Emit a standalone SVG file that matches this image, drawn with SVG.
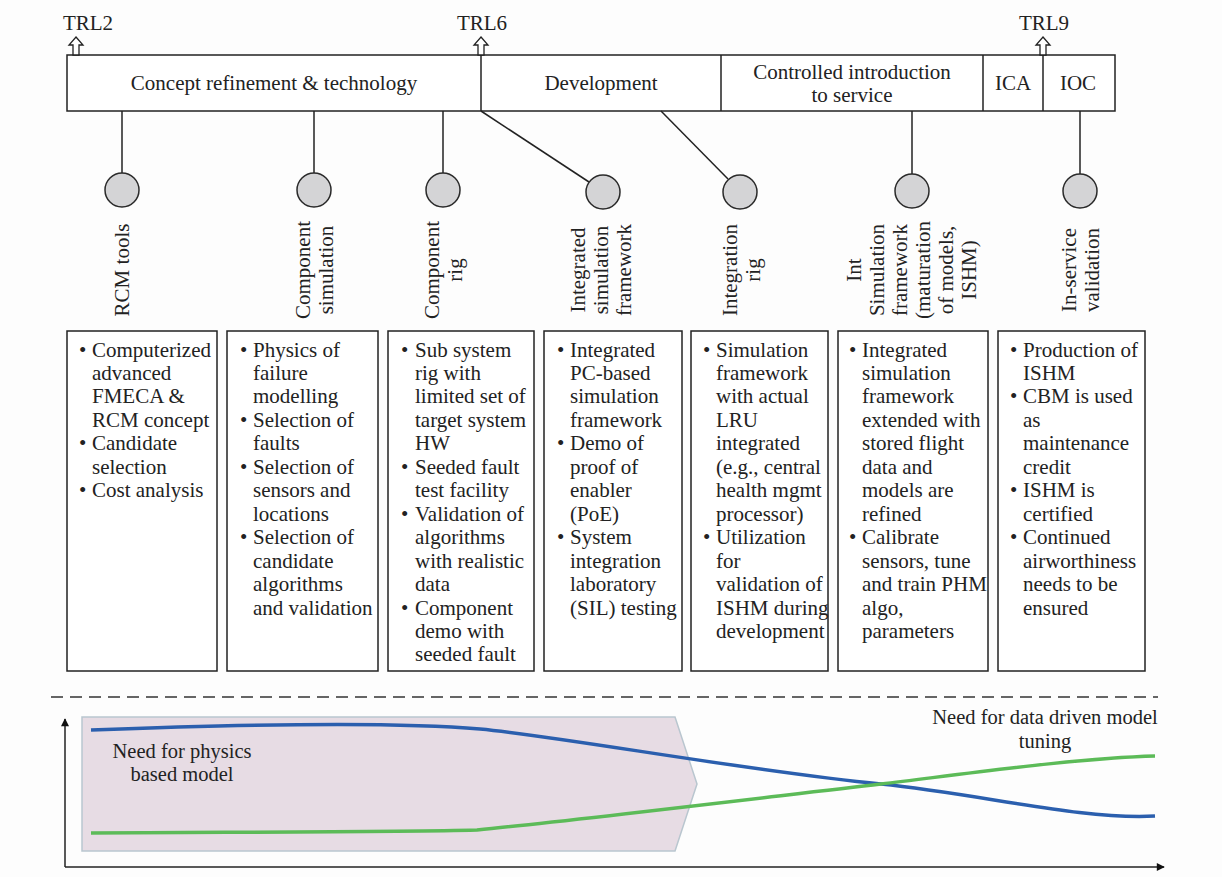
<svg xmlns="http://www.w3.org/2000/svg" width="1222" height="877" viewBox="0 0 1222 877">
  <style>
    .t { font-family: "Liberation Serif", "Times New Roman", serif; font-size: 21px; fill: #222; }
    .c { text-anchor: middle; }
    .box { fill: #fff; stroke: #222; stroke-width: 1.5; }
    .ln { stroke: #222; stroke-width: 1.5; fill: none; }
    .dot { fill: #d4d4d6; stroke: #2a2a2a; stroke-width: 1.5; }
    .trl { fill: #fff; stroke: #222; stroke-width: 1.3; }
  </style>
  <defs>
    <marker id="ah" viewBox="0 0 10 10" refX="9" refY="5" markerWidth="10" markerHeight="8" markerUnits="userSpaceOnUse" orient="auto">
      <path d="M0,0 L10,5 L0,10 z" fill="#111"/>
    </marker>
  </defs>
  <rect width="1222" height="877" fill="#fdfdfd"/>

  <!-- Phase bar -->
  <g id="phases">
    <rect class="box" x="67" y="55" width="1048" height="56"/>
    <line class="ln" x1="481" y1="55" x2="481" y2="111"/>
    <line class="ln" x1="721" y1="55" x2="721" y2="111"/>
    <line class="ln" x1="983" y1="55" x2="983" y2="111"/>
    <line class="ln" x1="1043" y1="55" x2="1043" y2="111"/>
    <text class="t c" x="274" y="90">Concept refinement &amp; technology</text>
    <text class="t c" x="601" y="90">Development</text>
    <text class="t c" x="852" y="79">Controlled introduction</text>
    <text class="t c" x="852" y="102">to service</text>
    <text class="t c" x="1013" y="90">ICA</text>
    <text class="t c" x="1078" y="90">IOC</text>
  </g>

  <!-- TRL markers -->
  <g id="trl">
    <polygon class="trl" points="76,37 83,45 79,45 79,55 73,55 73,45 69,45"/>
    <text class="t c" x="88" y="30">TRL2</text>
    <polygon class="trl" points="481,37 488,45 484,45 484,55 478,55 478,45 474,45"/>
    <text class="t c" x="482" y="30">TRL6</text>
    <polygon class="trl" points="1043,37 1050,45 1046,45 1046,55 1040,55 1040,45 1036,45"/>
    <text class="t c" x="1044" y="30">TRL9</text>
  </g>

  <!-- Connectors from phase bar to activities -->
  <g id="connectors">
    <line class="ln" x1="122" y1="111" x2="122" y2="173"/>
    <line class="ln" x1="314" y1="111" x2="314" y2="173"/>
    <line class="ln" x1="443" y1="111" x2="443" y2="173"/>
    <line class="ln" x1="481" y1="111" x2="589" y2="182"/>
    <line class="ln" x1="661" y1="111" x2="728" y2="179"/>
    <line class="ln" x1="912" y1="111" x2="912" y2="174"/>
    <line class="ln" x1="1080" y1="111" x2="1080" y2="174"/>
  </g>

  <!-- Activity 1 -->
  <g id="rcm-tools">
    <circle class="dot" cx="122" cy="190" r="17"/>
    <text class="t c" transform="translate(122,270) rotate(-90)"><tspan x="0" y="7">RCM tools</tspan></text>
    <rect class="box" x="67" y="331" width="150" height="340"/>
    <text class="t">
      <tspan x="79" y="356.5">•</tspan><tspan x="92" y="356.5">Computerized</tspan>
      <tspan x="92" y="380">advanced</tspan>
      <tspan x="92" y="403.4">FMECA &amp;</tspan>
      <tspan x="92" y="426.9">RCM concept</tspan>
      <tspan x="79" y="450.3">•</tspan><tspan x="92" y="450.3">Candidate</tspan>
      <tspan x="92" y="473.8">selection</tspan>
      <tspan x="79" y="497.2">•</tspan><tspan x="92" y="497.2">Cost analysis</tspan>
    </text>
  </g>

  <!-- Activity 2 -->
  <g id="component-simulation">
    <circle class="dot" cx="314" cy="190" r="17"/>
    <text class="t c" transform="translate(314,270) rotate(-90)"><tspan x="0" y="-4.5">Component</tspan><tspan x="0" y="18.5">simulation</tspan></text>
    <rect class="box" x="227" y="331" width="151" height="340"/>
    <text class="t">
      <tspan x="240" y="356.5">•</tspan><tspan x="253" y="356.5">Physics of</tspan>
      <tspan x="253" y="380">failure</tspan>
      <tspan x="253" y="403.4">modelling</tspan>
      <tspan x="240" y="426.9">•</tspan><tspan x="253" y="426.9">Selection of</tspan>
      <tspan x="253" y="450.3">faults</tspan>
      <tspan x="240" y="473.8">•</tspan><tspan x="253" y="473.8">Selection of</tspan>
      <tspan x="253" y="497.2">sensors and</tspan>
      <tspan x="253" y="520.7">locations</tspan>
      <tspan x="240" y="544.1">•</tspan><tspan x="253" y="544.1">Selection of</tspan>
      <tspan x="253" y="567.6">candidate</tspan>
      <tspan x="253" y="591">algorithms</tspan>
      <tspan x="253" y="614.5">and validation</tspan>
    </text>
  </g>

  <!-- Activity 3 -->
  <g id="component-rig">
    <circle class="dot" cx="443" cy="190" r="17"/>
    <text class="t c" transform="translate(443,270) rotate(-90)"><tspan x="0" y="-4.5">Component</tspan><tspan x="0" y="18.5">rig</tspan></text>
    <rect class="box" x="388" y="331" width="146" height="340"/>
    <text class="t">
      <tspan x="401" y="356.5">•</tspan><tspan x="415" y="356.5">Sub system</tspan>
      <tspan x="415" y="380">rig with</tspan>
      <tspan x="415" y="403.4">limited set of</tspan>
      <tspan x="415" y="426.9">target system</tspan>
      <tspan x="415" y="450.3">HW</tspan>
      <tspan x="401" y="473.8">•</tspan><tspan x="415" y="473.8">Seeded fault</tspan>
      <tspan x="415" y="497.2">test facility</tspan>
      <tspan x="401" y="520.7">•</tspan><tspan x="415" y="520.7">Validation of</tspan>
      <tspan x="415" y="544.1">algorithms</tspan>
      <tspan x="415" y="567.6">with realistic</tspan>
      <tspan x="415" y="591">data</tspan>
      <tspan x="401" y="614.5">•</tspan><tspan x="415" y="614.5">Component</tspan>
      <tspan x="415" y="637.9">demo with</tspan>
      <tspan x="415" y="661.4">seeded fault</tspan>
    </text>
  </g>

  <!-- Activity 4 -->
  <g id="integrated-simulation-framework">
    <circle class="dot" cx="603" cy="192" r="17"/>
    <text class="t c" transform="translate(601,270) rotate(-90)"><tspan x="0" y="-16">Integrated</tspan><tspan x="0" y="7">simulation</tspan><tspan x="0" y="30">framework</tspan></text>
    <rect class="box" x="544" y="331" width="138" height="340"/>
    <text class="t">
      <tspan x="557" y="356.5">•</tspan><tspan x="570" y="356.5">Integrated</tspan>
      <tspan x="570" y="380">PC-based</tspan>
      <tspan x="570" y="403.4">simulation</tspan>
      <tspan x="570" y="426.9">framework</tspan>
      <tspan x="557" y="450.3">•</tspan><tspan x="570" y="450.3">Demo of</tspan>
      <tspan x="570" y="473.8">proof of</tspan>
      <tspan x="570" y="497.2">enabler</tspan>
      <tspan x="570" y="520.7">(PoE)</tspan>
      <tspan x="557" y="544.1">•</tspan><tspan x="570" y="544.1">System</tspan>
      <tspan x="570" y="567.6">integration</tspan>
      <tspan x="570" y="591">laboratory</tspan>
      <tspan x="570" y="614.5">(SIL) testing</tspan>
    </text>
  </g>

  <!-- Activity 5 -->
  <g id="integration-rig">
    <circle class="dot" cx="740" cy="192" r="17"/>
    <text class="t c" transform="translate(741,270) rotate(-90)"><tspan x="0" y="-4.5">Integration</tspan><tspan x="0" y="18.5">rig</tspan></text>
    <rect class="box" x="691" y="331" width="137" height="340"/>
    <text class="t">
      <tspan x="703" y="356.5">•</tspan><tspan x="716" y="356.5">Simulation</tspan>
      <tspan x="716" y="380">framework</tspan>
      <tspan x="716" y="403.4">with actual</tspan>
      <tspan x="716" y="426.9">LRU</tspan>
      <tspan x="716" y="450.3">integrated</tspan>
      <tspan x="716" y="473.8">(e.g., central</tspan>
      <tspan x="716" y="497.2">health mgmt</tspan>
      <tspan x="716" y="520.7">processor)</tspan>
      <tspan x="703" y="544.1">•</tspan><tspan x="716" y="544.1">Utilization</tspan>
      <tspan x="716" y="567.6">for</tspan>
      <tspan x="716" y="591">validation of</tspan>
      <tspan x="716" y="614.5">ISHM during</tspan>
      <tspan x="716" y="637.9">development</tspan>
    </text>
  </g>

  <!-- Activity 6 -->
  <g id="int-simulation-framework">
    <circle class="dot" cx="912" cy="191" r="17"/>
    <text class="t c" transform="translate(911,270) rotate(-90)"><tspan x="0" y="-50.5">Int</tspan><tspan x="0" y="-27.5">Simulation</tspan><tspan x="0" y="-4.5">framework</tspan><tspan x="0" y="18.5">(maturation</tspan><tspan x="0" y="41.5">of models,</tspan><tspan x="0" y="64.5">ISHM)</tspan></text>
    <rect class="box" x="838" y="331" width="150" height="340"/>
    <text class="t">
      <tspan x="849" y="356.5">•</tspan><tspan x="862" y="356.5">Integrated</tspan>
      <tspan x="862" y="380">simulation</tspan>
      <tspan x="862" y="403.4">framework</tspan>
      <tspan x="862" y="426.9">extended with</tspan>
      <tspan x="862" y="450.3">stored flight</tspan>
      <tspan x="862" y="473.8">data and</tspan>
      <tspan x="862" y="497.2">models are</tspan>
      <tspan x="862" y="520.7">refined</tspan>
      <tspan x="849" y="544.1">•</tspan><tspan x="862" y="544.1">Calibrate</tspan>
      <tspan x="862" y="567.6">sensors, tune</tspan>
      <tspan x="862" y="591">and train PHM</tspan>
      <tspan x="862" y="614.5">algo,</tspan>
      <tspan x="862" y="637.9">parameters</tspan>
    </text>
  </g>

  <!-- Activity 7 -->
  <g id="in-service-validation">
    <circle class="dot" cx="1080" cy="191" r="17"/>
    <text class="t c" transform="translate(1080,270) rotate(-90)"><tspan x="0" y="-4.5">In-service</tspan><tspan x="0" y="18.5">validation</tspan></text>
    <rect class="box" x="998" y="331" width="147" height="340"/>
    <text class="t">
      <tspan x="1010" y="356.5">•</tspan><tspan x="1023" y="356.5">Production of</tspan>
      <tspan x="1023" y="380">ISHM</tspan>
      <tspan x="1010" y="403.4">•</tspan><tspan x="1023" y="403.4">CBM is used</tspan>
      <tspan x="1023" y="426.9">as</tspan>
      <tspan x="1023" y="450.3">maintenance</tspan>
      <tspan x="1023" y="473.8">credit</tspan>
      <tspan x="1010" y="497.2">•</tspan><tspan x="1023" y="497.2">ISHM is</tspan>
      <tspan x="1023" y="520.7">certified</tspan>
      <tspan x="1010" y="544.1">•</tspan><tspan x="1023" y="544.1">Continued</tspan>
      <tspan x="1023" y="567.6">airworthiness</tspan>
      <tspan x="1023" y="591">needs to be</tspan>
      <tspan x="1023" y="614.5">ensured</tspan>
    </text>
  </g>

  <!-- Separator -->
  <line x1="51" y1="697" x2="1158" y2="697" stroke="#333" stroke-width="1.5" stroke-dasharray="12 7"/>

  <!-- Model-need chart -->
  <g id="chart">
    <polygon points="82,717 675,717 697,784 675,851 82,851" fill="#e7dce4" stroke="#b9c6cf" stroke-width="1.5"/>
    <path d="M91,730 C250,724 400,722 480,729 C565,737 740,770 881,784 C981,794 1080,820 1155,816" fill="none" stroke="#2b5fae" stroke-width="3.5"/>
    <path d="M91,833 C250,832 400,832 477,830 C560,822 760,798 881,784 C980,772 1080,758 1155,756" fill="none" stroke="#5cbb58" stroke-width="3.5"/>
    <line class="ln" x1="65" y1="867" x2="65" y2="719" marker-end="url(#ah)"/>
    <line class="ln" x1="65" y1="867" x2="1164" y2="867" marker-end="url(#ah)"/>
    <text class="t c" x="182" y="758" style="font-size:20.5px">Need for physics</text>
    <text class="t c" x="182" y="781" style="font-size:20.5px">based model</text>
    <text class="t c" x="1045" y="724" style="font-size:20.5px">Need for data driven model</text>
    <text class="t c" x="1045" y="748" style="font-size:20.5px">tuning</text>
  </g>
</svg>
